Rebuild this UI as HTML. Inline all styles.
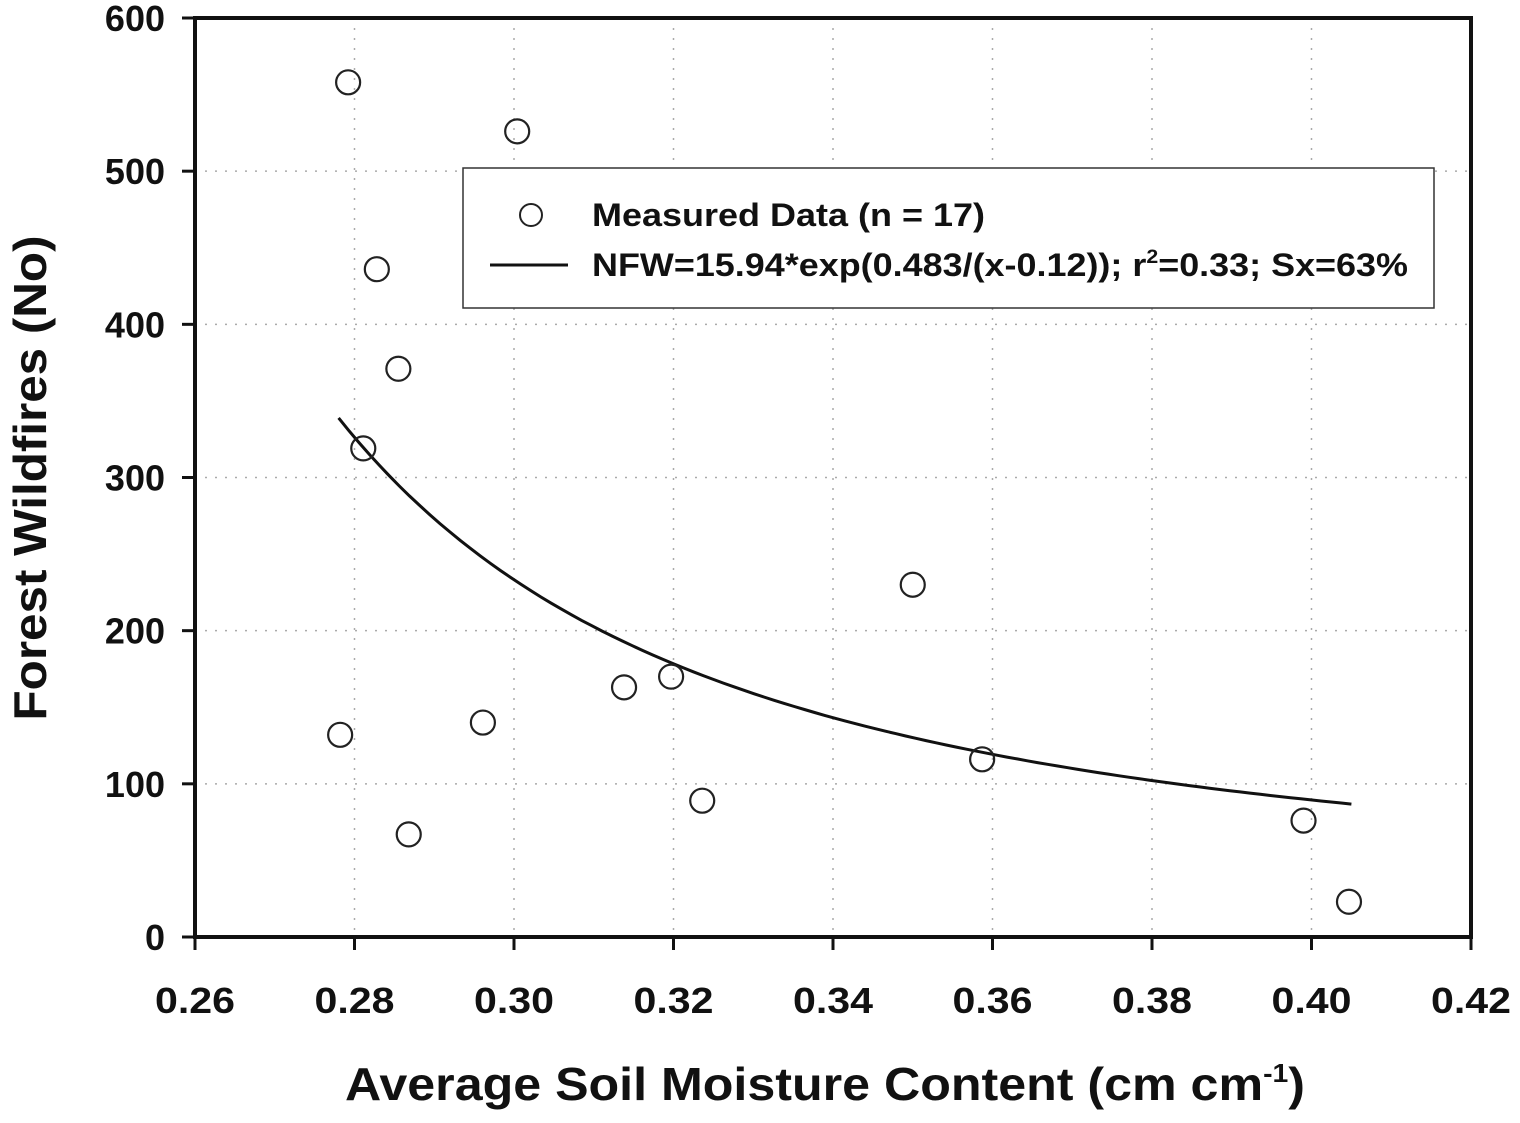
<!DOCTYPE html>
<html><head><meta charset="utf-8"><style>
body{margin:0;background:#fff}
svg text{font-family:"Liberation Sans",Arial,sans-serif;font-weight:bold;fill:#111}
</style></head><body>
<svg id="chart" width="1520" height="1118" xmlns="http://www.w3.org/2000/svg">
<g id="grid"></g>
<g id="axes"></g>
<g id="marks"></g>
<text transform="translate(46,478) rotate(-90)" text-anchor="middle" font-size="46" textLength="485" lengthAdjust="spacingAndGlyphs">Forest Wildfires (No)</text>
<text x="345" y="1100" font-size="46" textLength="960" lengthAdjust="spacingAndGlyphs">Average Soil Moisture Content (cm cm<tspan dy="-18" font-size="26">-1</tspan><tspan dy="18">)</tspan></text>
<g>
<rect x="463" y="168" width="971" height="140" fill="#fff" stroke="#333" stroke-width="1.5"/>
<circle cx="531" cy="215" r="11" fill="#fff" stroke="#222" stroke-width="2"/>
<text x="592" y="226" font-size="32" textLength="393" lengthAdjust="spacingAndGlyphs">Measured Data (n = 17)</text>
<line x1="490" y1="265" x2="568" y2="265" stroke="#111" stroke-width="3"/>
<text x="592" y="276" font-size="32" textLength="816" lengthAdjust="spacingAndGlyphs">NFW=15.94*exp(0.483/(x-0.12)); r<tspan dy="-13" font-size="19">2</tspan><tspan dy="13">=0.33; Sx=63%</tspan></text>
</g>
</svg>
<script>
const xTicks=[0.26,0.28,0.30,0.32,0.34,0.36,0.38,0.40,0.42];
const yTicks=[0,100,200,300,400,500,600];
const xVals=[0.2792,0.3004,0.2828,0.2855,0.2811,0.2782,0.2868,0.2961,0.3138,0.3197,0.3236,0.3500,0.3587,0.3990,0.4047];
const yVals=[558,526,436,371,319,132,67,140,163,170,89,230,116,76,23];
const fitA=15.94, fitB=0.483, fitC=0.12, fitStart=0.278, fitEnd=0.405;
const X0=195,X1=1471,Y0=937,Y1=18;
const sx=v=>X0+(v-0.26)/(0.16)*(X1-X0);
const sy=v=>Y0-v/600*(Y0-Y1);
const NS="http://www.w3.org/2000/svg";
function mk(t,p,a){const e=document.createElementNS(NS,t);for(const k in a)e.setAttribute(k,a[k]);p.appendChild(e);return e;}
const grid=document.getElementById('grid'),axes=document.getElementById('axes'),marks=document.getElementById('marks');
xTicks.forEach(t=>{const x=sx(t);
 if(t>0.261&&t<0.419){const g=mk('line',grid,{x1:x,x2:x,y1:Y1,y2:Y0,stroke:'#aaa','stroke-width':1.5,'stroke-dasharray':'2,8'});
 
 }
 const tk=mk('line',axes,{x1:x,x2:x,y1:Y0,y2:Y0+13,stroke:'#111','stroke-width':3});
 
 
 const l=mk('text',axes,{x:x,y:1013,'text-anchor':'middle','font-size':36,textLength:80,lengthAdjust:'spacingAndGlyphs'});l.textContent=t.toFixed(2);
 
 });
yTicks.forEach(t=>{const y=sy(t);
 if(t>0&&t<600){const g=mk('line',grid,{x1:X0,x2:X1,y1:y,y2:y,stroke:'#aaa','stroke-width':1.5,'stroke-dasharray':'2,8'});
 
 }
 const tk=mk('line',axes,{x1:X0-13,x2:X0,y1:y,y2:y,stroke:'#111','stroke-width':3});
 
 
 const l=mk('text',axes,{x:165,y:y+13,'text-anchor':'end','font-size':36});l.textContent=t;
 
 });
const fr=mk('rect',axes,{x:X0,y:Y1,width:X1-X0,height:Y0-Y1,fill:'none',stroke:'#111','stroke-width':4});


let d='';for(let i=0;i<=100;i++){const x=fitStart+(fitEnd-fitStart)*i/100;const y=fitA*Math.exp(fitB/(x-fitC));d+=(i?'L':'M')+sx(x).toFixed(1)+','+sy(y).toFixed(1);}
const fl=mk('path',marks,{d:d,fill:'none',stroke:'#111','stroke-width':3});


xVals.forEach((v,i)=>{const c=mk('circle',marks,{cx:sx(v),cy:sy(yVals[i]),r:12,fill:'#fff','fill-opacity':0,stroke:'#222','stroke-width':2.2});
 
 });
</script>
</body></html>
